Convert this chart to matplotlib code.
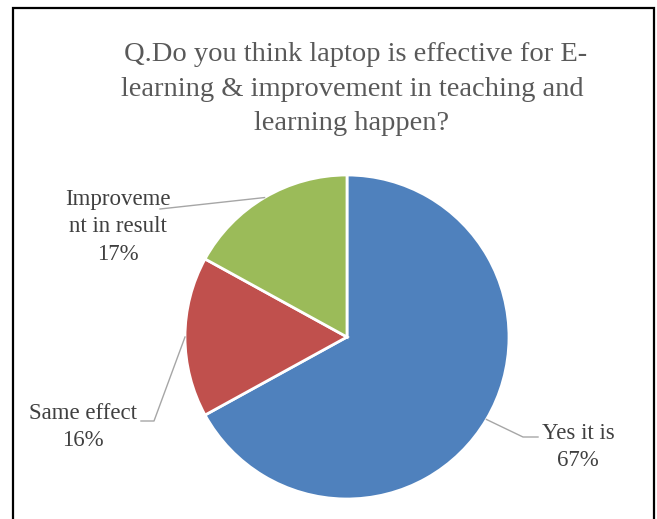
import matplotlib.pyplot as plt
from matplotlib.patches import Rectangle
import numpy as np

labels = ['Yes it is', 'Same effect', 'Improveme\nnt in result']
values = [67, 16, 17]
colors = ['#4F81BD', '#C0504D', '#9BBB59']
title = ' Q.Do you think laptop is effective for E-\nlearning & improvement in teaching and\nlearning happen?'

W, H = 657, 519
fig = plt.figure(figsize=(W / 100, H / 100), dpi=100)
ax = fig.add_axes([0, 0, 1, 1])

def py(y):
    # pixel row (from top) -> data y
    return H - y

cx, cy, r = 347, 337, 162
wedges, _ = ax.pie(values, colors=colors, startangle=90, counterclock=False,
                   center=(cx, py(cy)), radius=r,
                   wedgeprops=dict(edgecolor='white', linewidth=2))

ax.set_xlim(0, W)
ax.set_ylim(0, H)
ax.set_aspect('auto')
ax.axis('off')

# outer frame
fig.patches.append(Rectangle((13, -10), 641, H - 8 + 10, transform=None,
                             fill=False, edgecolor='black', linewidth=1.6))

ax.text(352, py(89), title, ha='center', va='center', fontsize=20.5,
        family='Liberation Serif', color='#595959', linespacing=1.5)

# label text position, leader elbow/end points
lab_pos = [(578, 447), (83, 427), (118, 227)]
leaders = [[(523, 437), (538, 437)],
           [(154, 421), (141, 421)],
           [(160, 209)]]
tfont = dict(family='Liberation Serif', fontsize=16.5, color='#404040')
for w, lab, v, (tx, ty), pts in zip(wedges, labels, values, lab_pos, leaders):
    mid = np.deg2rad((w.theta1 + w.theta2) / 2)
    x0 = cx + r * np.cos(mid)
    y0 = py(cy) + r * np.sin(mid)
    xs = [x0] + [p[0] for p in pts]
    ys = [y0] + [py(p[1]) for p in pts]
    ax.plot(xs, ys, color='#A6A6A6', lw=1.0)
    ax.text(tx, py(ty), '%s\n%d%%' % (lab, v), ha='center', va='center',
            linespacing=1.4, **tfont)

fig.savefig('out.png', dpi=100)
